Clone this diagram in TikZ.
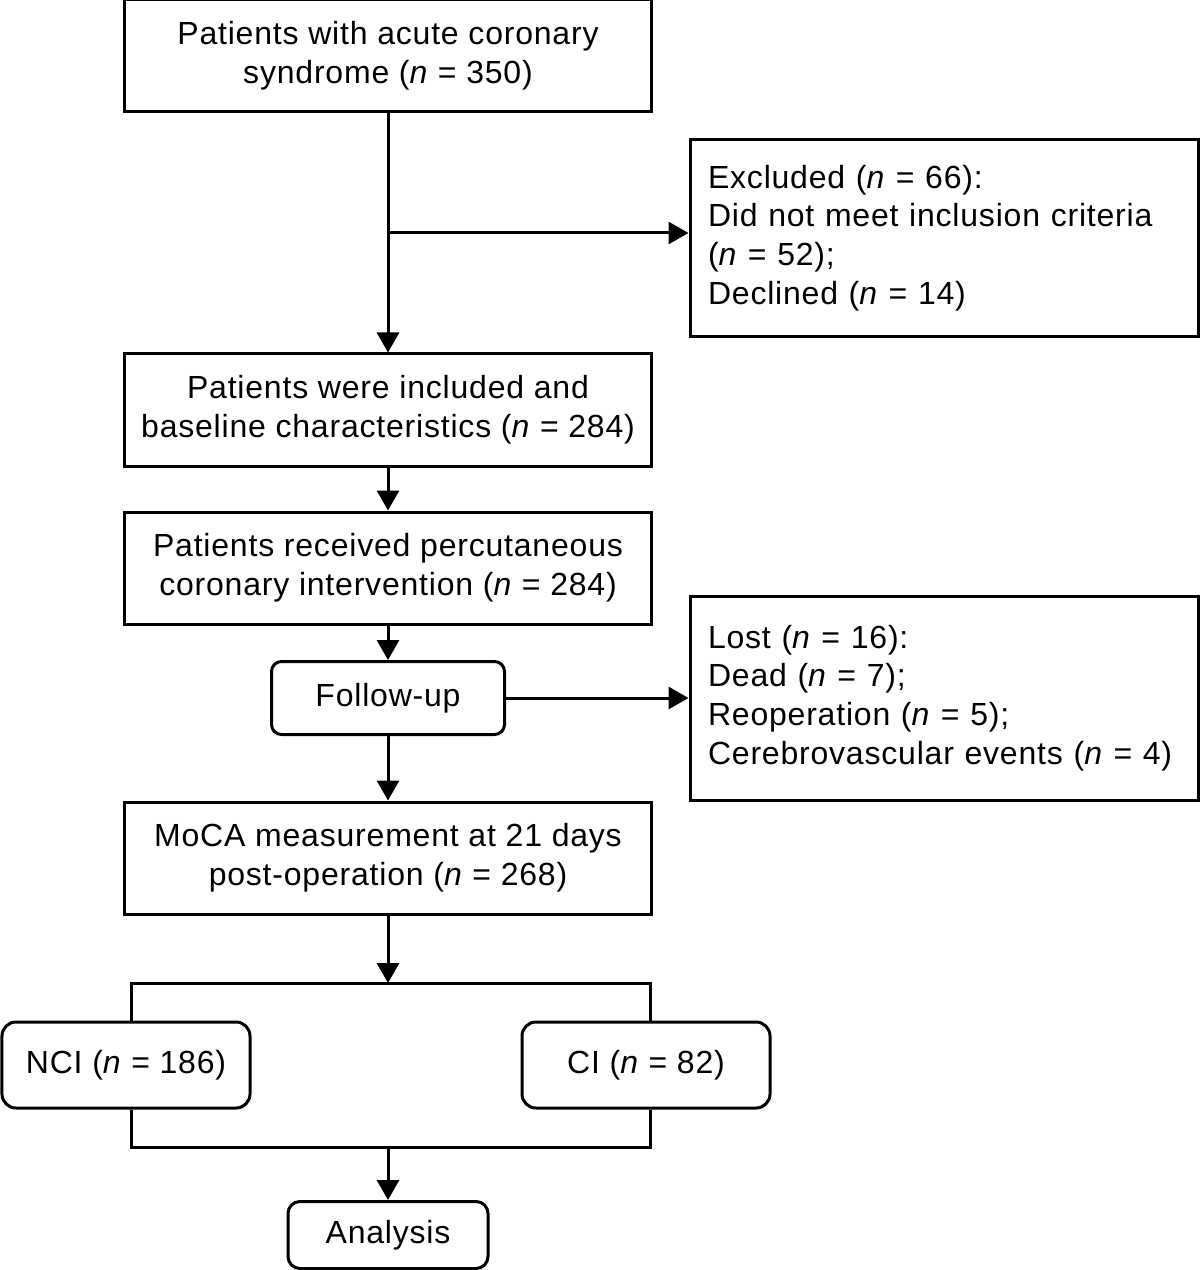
\documentclass[tikz,border=0pt]{standalone}
\usepackage{fontspec}
\setmainfont[LetterSpace=2.5]{Liberation Sans}
\usetikzlibrary{arrows.meta}
\begin{document}
\begin{tikzpicture}[x=0.5bp,y=-0.5bp,
  every node/.style={font=\fontsize{16bp}{19.3bp}\selectfont, inner sep=0pt},
  box/.style={draw, line width=1.5bp, minimum width=263bp, minimum height=56bp, align=center},
  sidebox/.style={draw, line width=1.5bp, minimum width=254bp, align=left, text width=236bp, inner xsep=9bp},
  rbox/.style={draw, line width=1.5bp, rounded corners=5bp, align=center},
  conn/.style={line width=1.5bp},
  arr/.style={conn, -{Triangle[length=10bp,width=11bp]}}
]
\useasboundingbox (0,0) rectangle (1200,1270);

\node[box] (b1) at (388,56) {Patients with acute coronary\\syndrome (\textit{n} = 350)};
\node[sidebox, minimum height=98bp] (ex) at (944,238) {Excluded (\textit{n} = 66):\\Did not meet inclusion criteria\\(\textit{n} = 52);\\Declined (\textit{n} = 14)};
\node[box] (b2) at (388,410) {Patients were included and\\baseline characteristics (\textit{n} = 284)};
\node[box] (b3) at (388,568) {Patients received percutaneous\\coronary intervention (\textit{n} = 284)};
\node[rbox, minimum width=116.5bp, minimum height=36.5bp] (fu) at (388,698) {Follow-up};
\node[sidebox, minimum height=102bp] (lost) at (944,698) {Lost (\textit{n} = 16):\\Dead (\textit{n} = 7);\\Reoperation (\textit{n} = 5);\\Cerebrovascular events (\textit{n} = 4)};
\node[box] (b4) at (388,858) {MoCA measurement at 21 days\\post-operation (\textit{n} = 268)};
\node[rbox, rounded corners=7bp, minimum width=124bp, minimum height=43bp] (nci) at (126,1065) {NCI (\textit{n} = 186)};
\node[rbox, rounded corners=7bp, minimum width=124bp, minimum height=43bp] (ci) at (646,1065) {CI (\textit{n} = 82)};
\node[rbox, rounded corners=6bp, minimum width=100bp, minimum height=33.5bp] (an) at (388,1235) {Analysis};

\draw[arr] (b1) -- (b2);
\coordinate (j1) at (388,233);
\draw[arr] (j1) -- (j1 -| ex.west);
\draw[arr] (b2) -- (b3);
\draw[arr] (b3) -- (fu);
\draw[arr] (fu) -- (lost);
\draw[arr] (fu) -- (b4);
\coordinate (t) at (388,983);
\draw[arr] (b4) -- (t);
\coordinate (tl) at (131,983);
\coordinate (tr) at (650,983);
\draw[conn] (nci.north -| tl) -- (tl) -- (tr) -- (ci.north -| tr);
\coordinate (bl) at (131,1147);
\coordinate (br) at (650,1147);
\draw[conn] (nci.south -| bl) -- (bl) -- (br) -- (ci.south -| br);
\coordinate (bm) at (388,1147);
\draw[arr] (bm) -- (an);
\end{tikzpicture}
\end{document}
